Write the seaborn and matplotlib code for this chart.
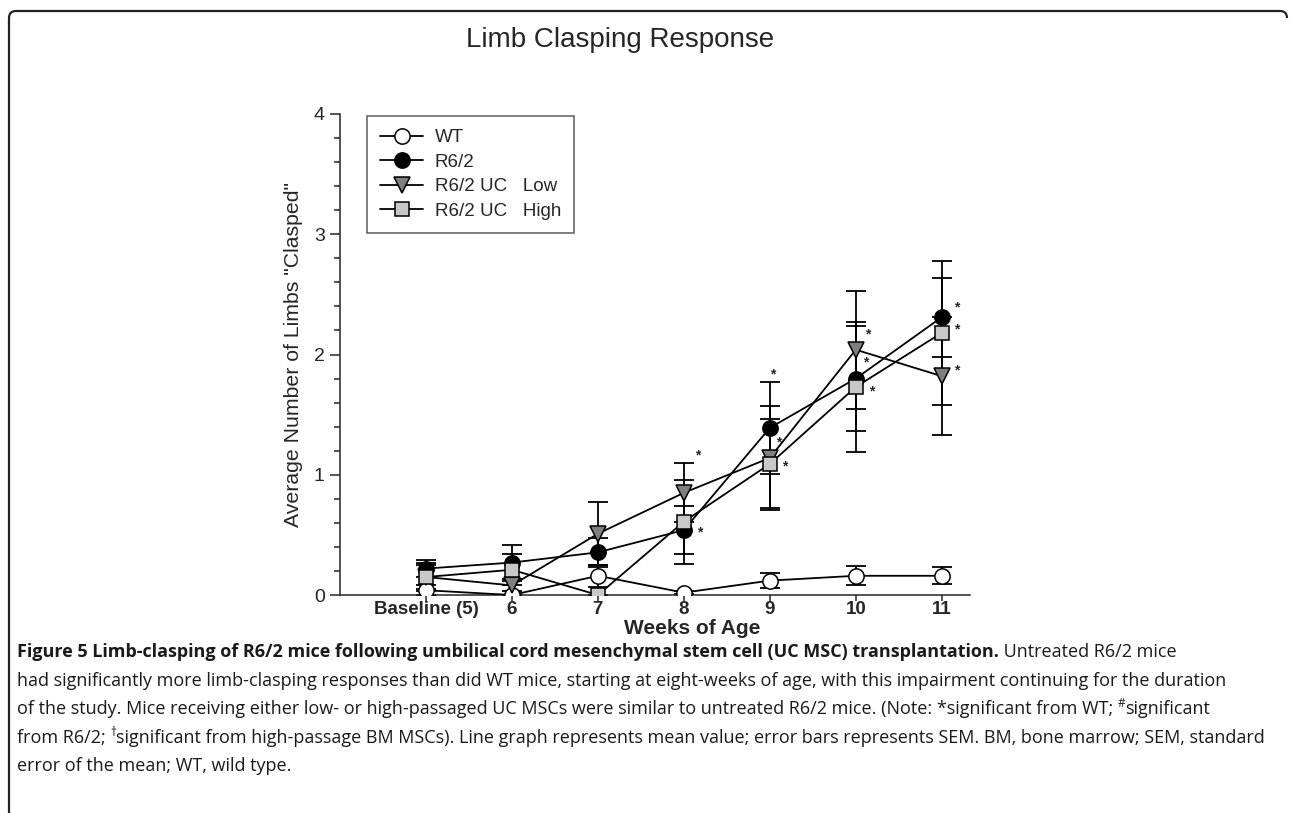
import numpy as np
import pandas as pd
import matplotlib
matplotlib.use('Agg')
import matplotlib.pyplot as plt
import seaborn as sns
from matplotlib.path import Path
from matplotlib.patches import PathPatch
from matplotlib.ticker import MultipleLocator

# data (mean and SEM per week)
weeks = [5, 6, 7, 8, 9, 10, 11]
week_labels = ['Baseline (5)', '6', '7', '8', '9', '10', '11']
wt_mean = [0.04, 0.00, 0.16, 0.02, 0.12, 0.16, 0.16]
wt_sem = [0.04, 0.00, 0.09, 0.01, 0.06, 0.08, 0.07]
r62_mean = [0.22, 0.27, 0.355, 0.54, 1.39, 1.80, 2.31]
r62_sem = [0.07, 0.15, 0.12, 0.20, 0.38, 0.435, 0.33]
low_mean = [0.15, 0.08, 0.51, 0.85, 1.14, 2.04, 1.82]
low_sem = [0.10, 0.05, 0.26, 0.245, 0.43, 0.49, 0.49]
high_mean = [0.15, 0.21, 0.00, 0.61, 1.09, 1.73, 2.18]
high_sem = [0.12, 0.13, 0.00, 0.35, 0.37, 0.54, 0.60]
group_names = ['WT', 'R6/2', 'R6/2 UC   Low', 'R6/2 UC   High']

# significance stars (*significant from WT)
star_x = [8.16, 8.19, 9.03, 9.10, 9.17, 10.14, 10.11, 10.18, 11.17, 11.17, 11.17]
star_y = [1.16, 0.52, 1.835, 1.27, 1.07, 2.17, 1.93, 1.69, 2.39, 2.21, 1.87]

sns.set_style('ticks')
plt.rcParams['font.family'] = ['Liberation Sans', 'DejaVu Sans']

fig = plt.figure(figsize=(12.9, 8.13), dpi=100)
ax = fig.add_axes([0.2636, 0.2681, 0.4884, 0.5917])

means = [wt_mean, r62_mean, low_mean, high_mean]
sems = [wt_sem, r62_sem, low_sem, high_sem]
markers = ['o', 'o', 'v', 's']
faces = ['white', 'black', '#7f7f7f', '#c8c8c8']
msizes = [11, 11, 11, 10]

for name, m, e, mk, fc, ms in zip(group_names, means, sems, markers, faces, msizes):
    df = pd.DataFrame({'week': weeks, 'mean': m})
    ax.errorbar(weeks, m, yerr=e, fmt='none', ecolor='black', elinewidth=1.3,
                capsize=7.5, capthick=1.3, zorder=2)
    sns.lineplot(data=df, x='week', y='mean', ax=ax, color='black', lw=1.3,
                 marker=mk, markersize=ms, markerfacecolor=fc,
                 markeredgecolor='black', markeredgewidth=1.1, label=name, zorder=3)

for sx, sy in zip(star_x, star_y):
    ax.text(sx, sy, '*', fontsize=10, fontweight='bold', ha='center', va='center')

ax.set_xlim(4, 11.33)
ax.set_ylim(0, 4)
ax.set_xticks(weeks)
ax.set_xticklabels(week_labels, fontweight='bold', fontsize=13.5)
ax.yaxis.set_major_locator(MultipleLocator(1))
ax.yaxis.set_minor_locator(MultipleLocator(0.2))
ax.tick_params(axis='y', which='major', length=7, width=1.1, labelsize=14, pad=4)
ax.tick_params(axis='y', which='minor', length=4, width=1.1)
ax.tick_params(axis='x', length=4, width=1.1, pad=0.5)
sns.despine(ax=ax)
for s in ['left', 'bottom']:
    ax.spines[s].set_linewidth(1.1)
ax.set_xlabel('Weeks of Age', fontweight='bold', fontsize=15)
ax.xaxis.set_label_coords(0.559, -0.05)
ax.set_ylabel('Average Number of Limbs "Clasped"', fontsize=15.3, labelpad=8)

leg = ax.legend(loc='upper left', bbox_to_anchor=(0.043, 0.996), fontsize=13.5,
                frameon=True, fancybox=False, edgecolor='#333333',
                handlelength=2.3, handletextpad=0.6, borderpad=0.7,
                labelspacing=0.4, borderaxespad=0)
leg.get_frame().set_linewidth(1.1)

fig.text(0.481, 0.951, 'Limb Clasping Response', fontsize=20, ha='center', va='center')

# rounded page frame
W, H = 1290.0, 813.0
verts = [(9, 813), (9, 18), (9, 11), (16, 11), (1280, 11), (1287, 11), (1287, 18)]
codes = [Path.MOVETO, Path.LINETO, Path.CURVE3, Path.CURVE3, Path.LINETO, Path.CURVE3, Path.CURVE3]
frame = Path([(x / W, 1 - y / H) for x, y in verts], codes)
fig.add_artist(PathPatch(frame, fill=False, lw=1.6, edgecolor='#222222',
                         transform=fig.transFigure))

# caption, drawn run by run
renderer = fig.canvas.get_renderer()
cap_size = 13.0
cap_family = ['Open Sans', 'DejaVu Sans']


def text_width(s, weight, size):
    t = fig.text(0, 0, s, fontsize=size, fontweight=weight, family=cap_family)
    w = t.get_window_extent(renderer).width
    t.remove()
    return w


def draw_runs(y_px, runs):
    x = 17.0
    for s, weight, sup in runs:
        size = cap_size * 0.65 if sup else cap_size
        dy = 7 if sup else 0
        fig.text(x / W, 1 - (y_px - dy) / H, s, fontsize=size, fontweight=weight,
                 family=cap_family, va='baseline', color='#1a1a1a')
        x += text_width('x' + s + 'x', weight, size) - text_width('xx', weight, size)


caption = [
    [('Figure 5 Limb-clasping of R6/2 mice following umbilical cord mesenchymal stem cell (UC MSC) transplantation.', 'bold', False),
     (' Untreated R6/2 mice', 'normal', False)],
    [('had significantly more limb-clasping responses than did WT mice, starting at eight-weeks of age, with this impairment continuing for the duration', 'normal', False)],
    [('of the study. Mice receiving either low- or high-passaged UC MSCs were similar to untreated R6/2 mice. (Note: *significant from WT; ', 'normal', False),
     ('#', 'normal', True), ('significant', 'normal', False)],
    [('from R6/2; ', 'normal', False), ('\u2020', 'normal', True),
     ('significant from high-passage BM MSCs). Line graph represents mean value; error bars represents SEM. BM, bone marrow; SEM, standard', 'normal', False)],
    [('error of the mean; WT, wild type.', 'normal', False)],
]
for i, runs in enumerate(caption):
    draw_runs(657 + i * 28.5, runs)

fig.savefig('out.png', dpi=100)
